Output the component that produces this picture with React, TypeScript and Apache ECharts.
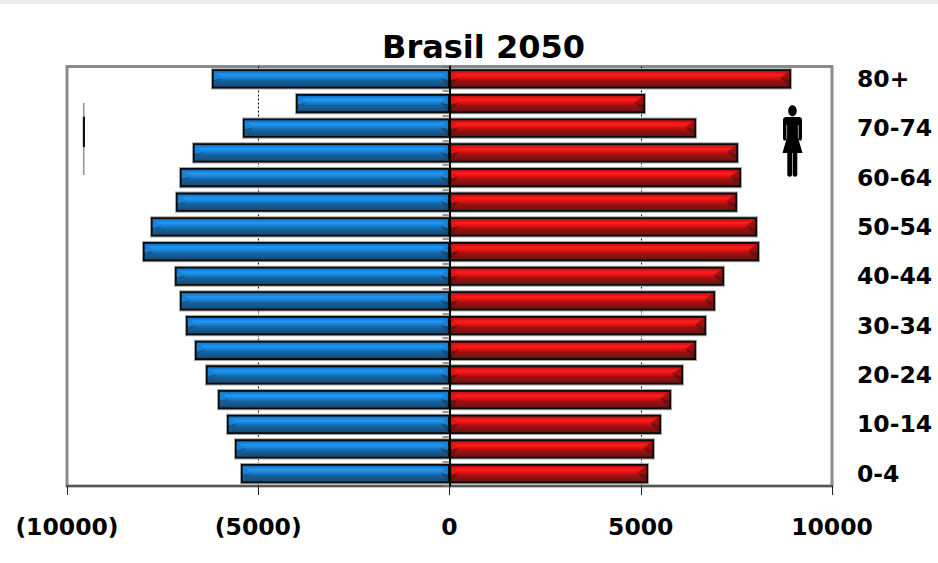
import React, { useEffect, useRef } from "react";
import * as echarts from "echarts";

const categories = ["0-4","5-9","10-14","15-19","20-24","25-29","30-34","35-39","40-44","45-49","50-54","55-59","60-64","65-69","70-74","75-79","80+"];
const male = [5451,5608,5817,6052,6366,6654,6889,7046,7176,8013,7804,7150,7046,6706,5399,4013,6209];
const female = [5190,5346,5529,5791,6104,6444,6706,6941,7176,8091,8039,7516,7621,7542,6444,5110,8928];
const xTicks = { min: -10000, max: 10000, interval: 5000 };
const titleText = "Brasil 2050";
const FONT = "'DejaVu Sans', Verdana, sans-serif";

const WOMAN = "M10,0.2 C12.4,0.2 14.3,2.7 14.3,5.7 C14.3,8.7 12.4,11.2 10,11.2 C7.6,11.2 5.7,8.7 5.7,5.7 C5.7,2.7 7.6,0.2 10,0.2 Z M0.5,15 Q0.5,12 4,12 L16,12 Q19.5,12 19.5,15 L19.5,33 Q19.5,35.7 17.8,35.7 Q16,35.7 16,33 L16,20 L15.4,20 L15.4,32 L20,48 L14.8,48 L14.8,70 Q14.8,71.8 12.5,71.8 Q10.2,71.8 10.2,70 L10.2,48 L9.6,48 L9.6,70 Q9.6,71.8 7.2,71.8 Q4.8,71.8 4.8,70 L4.8,48 L0,48 L4.6,32 L4.6,20 L4,20 L4,33 Q4,35.7 2.2,35.7 Q0.5,35.7 0.5,33 Z";
echarts.graphic.registerShape("woman", echarts.graphic.extendPath(WOMAN, {}) as any);

type Palette = { stops: string[]; outerUp: string; outerDown: string; innerUp: string; innerDown: string };
const bluePal: Palette = {
  stops: ["#0b6ec2", "#2398f2", "#1480d4", "#14649f", "#174a78"],
  outerUp: "#1a82d6", outerDown: "#175a90", innerUp: "#1a82d6", innerDown: "#164a78",
};
const redPal: Palette = {
  stops: ["#bc0c0c", "#ff1e1e", "#dc1010", "#a01010", "#6c1212"],
  outerUp: "#a01010", outerDown: "#6a1010", innerUp: "#e81212", innerDown: "#6a1212",
};

function bevelBar(pal: Palette) {
  return (_: any, api: any) => {
    const v = api.value(0);
    const cat = api.value(1);
    const p0 = api.coord([0, cat]);
    const p1 = api.coord([v, cat]);
    const band = api.size([0, 1])[1];
    const h = band * 0.78;
    const top = p0[1] - h / 2;
    const dir = v < 0 ? -1 : 1;
    const x0 = p0[0];
    const x1 = p1[0];
    const left = Math.min(x0, x1);
    const w = Math.abs(x1 - x0);
    const b = 1.8;
    const inTop = top + b;
    const inH = h - 2 * b;
    const inBot = inTop + inH;
    const endX = x1 - dir * b;
    const startX = x0 + dir * b;
    const capW = 9;
    const tipY = top + h * 0.45;
    return {
      type: "group",
      children: [
        { type: "rect", shape: { x: dir < 0 ? x1 - 1 : x0, y: top - 1, width: w + 1, height: h + 2 }, style: { fill: "#a6a6a6" } },
        { type: "rect", shape: { x: left, y: top, width: w, height: h }, style: { fill: "#0a0a0a" } },
        {
          type: "rect",
          shape: { x: left + b, y: inTop, width: w - 2 * b, height: inH },
          style: {
            fill: new echarts.graphic.LinearGradient(0, 0, 0, 1, [
              { offset: 0, color: pal.stops[0] },
              { offset: 0.24, color: pal.stops[1] },
              { offset: 0.45, color: pal.stops[2] },
              { offset: 0.62, color: pal.stops[3] },
              { offset: 1, color: pal.stops[4] },
            ]),
          },
        },
        { type: "polygon", shape: { points: [[endX, inTop], [endX - dir * capW, tipY], [endX, tipY + 2]] }, style: { fill: pal.outerUp } },
        { type: "polygon", shape: { points: [[endX, tipY + 2], [endX - dir * capW, tipY], [endX, inBot]] }, style: { fill: pal.outerDown } },
        { type: "polygon", shape: { points: [[startX, inTop], [startX + dir * capW * 0.8, tipY], [startX, tipY + 2]] }, style: { fill: pal.innerUp } },
        { type: "polygon", shape: { points: [[startX, tipY + 2], [startX + dir * capW * 0.8, tipY], [startX, inBot]] }, style: { fill: pal.innerDown } },
      ],
    };
  };
}

const toRows = (vals: number[], sign: number) => vals.map((v, i) => [sign * v, i]);
const fmt = (v: number) => (v < 0 ? `(${Math.abs(v)})` : `${v}`);

export default function App() {
  const ref = useRef<HTMLDivElement>(null);
  useEffect(() => {
    document.body.style.margin = "0";
    const chart = echarts.init(ref.current!, null, { renderer: "svg" });
    const labelStyle = { fontFamily: FONT, fontWeight: "bold" as const, fontSize: 23.5, color: "#000" };
    chart.setOption({
      animation: false,
      backgroundColor: "#fff",
      title: {
        text: titleText, left: 377, top: 26,
        textStyle: { fontFamily: FONT, fontWeight: "bold", fontSize: 32, color: "#000" },
      },
      grid: { left: 67, top: 66.5, width: 765, height: 419.5, show: true, borderColor: "#8a8a8a", borderWidth: 3, backgroundColor: "#fff" },
      xAxis: {
        type: "value", ...xTicks,
        axisLine: { show: true, onZero: false, lineStyle: { color: "#555", width: 2 } },
        axisTick: { show: true, length: 9, lineStyle: { color: "#222", width: 1 } },
        axisLabel: { ...labelStyle, margin: 29, formatter: fmt, hideOverlap: false },
        splitLine: { show: true, showMinLine: false, showMaxLine: false, lineStyle: { color: "#000", type: [2, 2], width: 1 } },
      },
      yAxis: [
        {
          type: "category", data: categories, position: "right",
          axisLine: { show: false, onZero: false }, axisTick: { show: false },
          axisLabel: { ...labelStyle, interval: 1, margin: 25, align: "left" },
        },
        {
          type: "category", data: categories, position: "left", z: 3,
          axisLine: { show: true, onZero: true, lineStyle: { color: "#000", width: 2 } },
          axisTick: { show: true, length: 7, interval: 0, lineStyle: { color: "#777", width: 1.5 } },
          axisLabel: { show: false },
        },
      ],
      series: [
        { type: "custom", name: "Homens", renderItem: bevelBar(bluePal), data: toRows(male, -1), encode: { x: 0, y: 1 }, yAxisIndex: 0, clip: false },
        { type: "custom", name: "Mulheres", renderItem: bevelBar(redPal), data: toRows(female, 1), encode: { x: 0, y: 1 }, yAxisIndex: 0, clip: false },
      ],
      graphic: [
        { type: "rect", silent: true, shape: { x: 0, y: 0, width: 938, height: 4 }, style: { fill: "#ececec" } },
        { type: "rect", silent: true, shape: { x: 83.2, y: 103, width: 1.2, height: 13 }, style: { fill: "#777" } },
        { type: "rect", silent: true, shape: { x: 82.8, y: 116.5, width: 2.2, height: 30.5 }, style: { fill: "#111" } },
        { type: "rect", silent: true, shape: { x: 83.2, y: 147, width: 1.2, height: 28 }, style: { fill: "#777" } },
        { type: "woman", silent: true, x: 782.5, y: 105, scaleX: 1, scaleY: 1, style: { fill: "#000" } },
      ],
    });
    return () => chart.dispose();
  }, []);
  return <div ref={ref} style={{ width: 938, height: 563 }} />;
}
